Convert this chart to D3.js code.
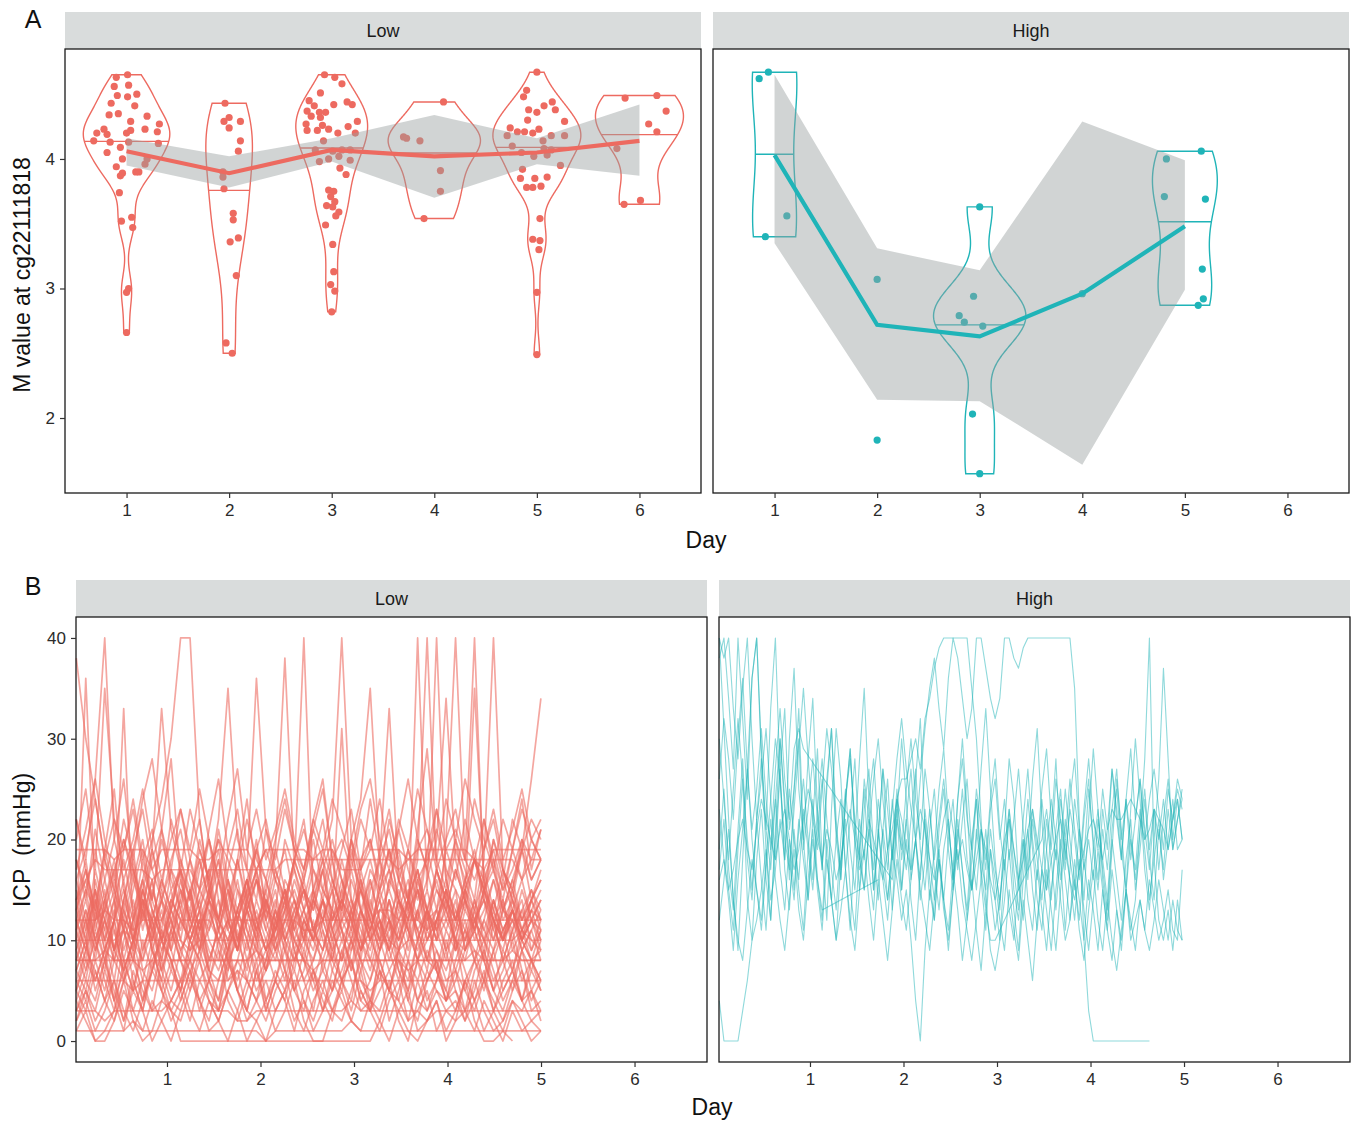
<!DOCTYPE html>
<html>
<head>
<meta charset="utf-8">
<script src="https://cdn.jsdelivr.net/npm/d3@7"></script>
<style>
  body { margin: 0; background: #fff; }
  text { font-family: "Liberation Sans", Arial, sans-serif; }
</style>
</head>
<body>
<svg id="fig" width="1358" height="1123"></svg>
<script>
const days = [1, 2, 3, 4, 5, 6]
const groups = ["Low", "High"]

// panel A points, per day: [jitter in days, M value]
const mLow = [
  [[-0.10,4.63],[0.01,4.65],[-0.12,4.56],[0.02,4.57],[-0.09,4.49],[0.01,4.48],[0.10,4.50],[-0.15,4.43],[0.08,4.41],
   [-0.17,4.34],[-0.08,4.35],[0.04,4.29],[0.20,4.33],[0.32,4.27],[-0.22,4.23],[-0.29,4.20],[-0.19,4.19],[0.00,4.20],
   [0.04,4.22],[0.18,4.23],[0.30,4.21],[-0.32,4.14],[-0.16,4.13],[-0.06,4.09],[0.02,4.13],[0.31,4.12],[-0.19,4.05],
   [-0.04,4.00],[-0.10,3.94],[0.18,3.96],[0.20,4.00],[0.09,3.90],[0.12,3.90],[-0.06,3.87],[-0.04,3.89],[-0.07,3.74],
   [-0.05,3.52],[0.05,3.55],[0.06,3.47],[0.02,3.00],[0.00,2.97],[0.00,2.66]],
  [[-0.04,4.43],[0.00,4.32],[-0.05,4.29],[0.00,4.24],[0.11,4.29],[0.11,4.14],[0.09,4.06],[-0.06,3.90],[-0.06,3.86],
   [-0.05,3.77],[0.04,3.58],[0.04,3.53],[0.01,3.36],[0.09,3.39],[0.07,3.10],[-0.03,2.58],[0.03,2.50]],
  [[-0.07,4.65],[0.03,4.63],[0.10,4.58],[-0.11,4.51],[-0.22,4.45],[-0.17,4.41],[0.02,4.42],[0.15,4.44],[0.20,4.42],
   [-0.24,4.37],[-0.12,4.36],[-0.06,4.36],[-0.20,4.33],[-0.11,4.32],[0.25,4.29],[-0.25,4.27],[-0.09,4.26],[0.16,4.25],
   [-0.24,4.22],[-0.14,4.22],[-0.03,4.23],[0.06,4.20],[0.23,4.20],[-0.08,4.14],[-0.16,4.07],[0.01,4.06],[0.10,4.07],
   [0.18,4.07],[-0.12,3.98],[-0.03,4.00],[0.07,4.02],[0.18,3.99],[0.08,3.93],[0.14,3.88],[-0.03,3.76],[0.02,3.75],
   [-0.01,3.71],[0.03,3.67],[-0.05,3.64],[0.01,3.63],[0.07,3.59],[0.04,3.56],[-0.06,3.49],[0.01,3.34],[0.02,3.13],
   [-0.01,3.03],[0.03,2.98],[0.00,2.82]],
  [[0.09,4.44],[-0.30,4.17],[-0.27,4.16],[-0.14,4.14],[0.06,3.91],[0.06,3.75],[-0.10,3.54]],
  [[0.00,4.67],[-0.10,4.53],[-0.13,4.48],[0.07,4.41],[0.15,4.44],[0.18,4.38],[-0.08,4.38],[0.00,4.36],[-0.09,4.30],
   [0.27,4.29],[-0.26,4.24],[-0.19,4.21],[-0.12,4.21],[-0.04,4.20],[0.02,4.23],[0.27,4.18],[-0.29,4.18],[0.14,4.18],
   [0.06,4.14],[-0.24,4.10],[0.07,4.08],[-0.15,4.05],[-0.03,4.02],[0.10,4.03],[0.14,4.07],[0.23,3.95],[-0.14,3.92],
   [-0.16,3.85],[-0.02,3.85],[0.10,3.86],[-0.10,3.78],[-0.04,3.78],[0.04,3.79],[0.03,3.54],[-0.04,3.38],[0.03,3.37],
   [0.02,3.30],[0.00,2.97],[0.00,2.49]],
  [[-0.14,4.47],[0.17,4.49],[0.26,4.37],[0.09,4.27],[0.17,4.21],[-0.22,4.08],[-0.15,3.65],[0.01,3.68]]
]
const mHigh = [
  [[-0.15,4.62],[-0.06,4.67],[0.12,3.56],[-0.09,3.40]],
  [[0.00,3.07],[0.00,1.83]],
  [[0.00,3.63],[-0.06,2.94],[-0.20,2.79],[-0.15,2.74],[0.03,2.71],[-0.07,2.03],[0.00,1.57]],
  [[0.00,2.96]],
  [[-0.18,4.00],[0.16,4.06],[-0.20,3.71],[0.20,3.69],[0.17,3.15],[0.18,2.92],[0.13,2.87]],
  []
]

// panel A summary line and ribbon
const meanLow = [4.06, 3.89, 4.07, 4.02, 4.05, 4.14]
const ribbonLoLow = [3.95, 3.78, 3.98, 3.70, 3.96, 3.87]
const ribbonHiLow = [4.16, 4.02, 4.16, 4.34, 4.16, 4.42]
const summaryDaysHigh = [1, 2, 3, 4, 5]
const meanHigh = [4.03, 2.72, 2.63, 2.96, 3.48]
const ribbonLoHigh = [3.35, 2.14, 2.13, 1.64, 2.99]
const ribbonHiHigh = [4.65, 3.31, 3.14, 4.29, 3.99]

// panel B: ICP traces, one string per patient, "_" = missing reading
const icpStart = 0.03
const icpLowStep = 0.1014
const icpHighStep = 0.05
const icpLow = [
  "38 30 24 18 15 20 17 14 12 16 13 11 15 18 14 12 10 13 16 12 9 11 14 17 13 10 12 15 11 9 13 16 12 10 14 11 9 12 15 13 10 8 12 14 11 9 13 10 12 11",
  "22 18 26 40 20 16 19 23 17 14 18 21 16 13 17 20 15 12 16 19 22 17 14 18 15 13 17 20 16 12 15 18 14 11 16 19 15 13 17 14 12 16 18 15 13 17 14 12 15 13",
  "3 5 2 4 6 3 1 4 7 5 3 2 5 8 4 2 0 3 6 4 2 5 7 3 1 4 6 3 2 5 8 4 3 6 2 0 4 7 5 3 2 6 4 1 3 5 7 4 2 3",
  "19 19 19 19 18 19 19 19 17 19 19 19 19 18 18 19 19 19 19 17 19 19 19 19 19 18 19 19 17 17 17 19 19 19 19 18 19 19 19 19 19 19 18 17 19 19 19 19 19 19",
  "12 9 14 11 8 13 10 15 12 9 11 14 10 8 12 16 11 9 13 10 7 12 15 11 9 14 10 8 13 11 16 12 9 14 10 13 11 8 12 15 10 9 13 11 14 10 12 9 11 13",
  "8 12 15 10 14 18 13 16 20 24 30 40 40 22 15 12 16 13 10 14 11 9 13 15 12 10 8 11 14 12 9 13 10 12 15 11 8 10 13 11 14 9 12 10 8 11 13 10 12 9",
  "5 8 6 9 4 7 10 6 3 8 5 9 7 4 6 10 8 5 3 7 9 6 4 8 11 7 5 9 6 3 7 10 8 5 4 8 6 9 7 5 3 6 8 10 7 4 6 9 5 7",
  "20 25 17 35 22 19 24 18 21 16 20 23 18 15 21 26 19 17 22 18 16 20 24 19 17 21 18 15 19 23 17 20 16 22 18 14 19 21 17 20 23 18 16 19 22 17 15 20 18 21",
  "4 2 0 1 3 6 2 0 1 4 3 0 0 0 0 0 0 0 0 0 0 0 0 0 0 0 0 0 0 0 0 0 2 5 3 1 0 2 4 1 3 6 2 0 0 1 4 2 0 1",
  "15 11 17 13 9 14 19 12 16 10 13 18 15 11 14 17 12 9 15 20 13 11 16 14 10 15 18 12 14 11 17 13 10 16 19 14 12 15 11 13 17 14 10 12 16 13 11 15 12 14",
  "10 36 14 9 12 33 11 8 13 10 7 12 15 9 11 14 8 10 13 16 12 9 11 14 10 8 12 15 11 13 9 12 10 14 11 8 13 10 12 15 9 11 14 10 12 8 11 13 10 9",
  "7 10 5 8 12 6 9 4 7 11 8 5 10 13 7 6 9 12 8 5 7 10 14 9 6 8 11 7 5 9 12 8 6 10 7 4 8 11 9 6 7 10 13 8 5 9 7 11 8 6",
  "13 16 12 18 14 11 15 19 13 10 14 17 12 15 20 16 13 18 14 11 15 19 38 17 40 14 12 16 13 18 15 11 14 17 13 16 12 19 15 13 17 14 11 15 18 13 16 12 14 17",
  "9 12 8 14 11 7 10 13 9 12 15 10 8 11 14 9 7 12 16 11 9 13 10 8 12 14 18 22 40 20 13 10 12 9 14 11 8 13 10 12 15 9 11 8 13 10 12 14 9 11",
  "18 14 21 16 12 19 23 17 14 20 16 13 18 22 15 12 17 21 14 19 16 13 20 17 14 18 22 16 13 19 15 12 18 21 16 14 20 17 13 19 16 22 18 15 20 17 14 19 16 18",
  "11 14 10 13 16 12 9 15 11 14 17 13 10 12 15 11 14 18 13 10 16 12 15 11 13 17 14 10 12 16 13 11 15 19 14 12 40 15 40 16 12 14 11 17 13 10 15 12 14 11",
  "6 9 12 8 11 7 10 14 9 6 11 8 13 10 7 12 9 15 11 8 10 13 9 7 12 10 14 11 8 13 10 7 11 14 9 12 16 13 10 20 40 18 40 15 12 10 13 9 11 8",
  "14 17 13 19 15 12 16 20 14 11 17 15 13 18 14 21 16 12 15 19 13 17 14 11 16 20 15 13 18 14 12 17 15 19 16 13 18 40 17 14 19 16 13 18 40 17 15 19 14 16",
  "12 15 10 13 17 11 14 9 12 16 13 10 15 11 14 18 12 9 13 16 11 14 10 12 15 13 17 11 14 12 16 10 13 15 12 14 17 11 13 16 12 15 18 14 20 16 22 19 26 34",
  "10 13 9 12 15 11 8 13 10 14 12 9 11 15 13 10 12 16 11 9 14 12 10 13 15 11 9 12 14 10 13 11 15 12 9 14 11 13 16 12 10 14 12 15 17 13 16 19 22 20",
  "12 12 12 13 12 12 11 12 12 12 14 12 12 12 12 10 12 12 12 12 13 12 12 12 11 11 12 12 12 12 12 12 13 13 12 12 12 11 12 12 12 12 12 14 12 12 12 12 12 12",
  "2 5 3 7 4 1 6 3 8 5 2 4 7 3 6 9 4 2 5 8 3 6 4 1 5 7 3 5 9 6 3 4 7 2 5 8 4 3 6 9 5 2 4 7 3 6 8 4 5 3",
  "16 19 24 18 22 17 20 25 19 33 21 17 23 19 16 22 35 20 17 36 21 18 23 19 16 21 25 18 20 17 22 19 24 18 21 26 20 17 23 19 21 18 24 20 17 22 19 23 20 18",
  "8 11 14 10 13 9 12 15 11 8 14 12 10 13 16 11 9 12 15 10 14 11 13 9 12 10 15 13 31 14 11 9 13 12 10 14 11 8 12 15 13 10 12 9 14 11 13 10 12 14",
  "13 10 15 12 9 14 11 16 13 10 12 15 11 14 17 12 10 13 16 12 14 11 15 13 10 14 17 12 15 20 24 35 18 33 16 13 15 12 17 14 11 15 13 16 12 14 10 13 15 12",
  "9 13 10 7 12 15 10 8 11 14 9 12 10 13 8 11 15 12 9 13 10 8 12 14 11 9 13 10 15 12 9 11 14 10 12 9 13 16 20 34 18 14 35 16 12 10 13 11 9 12",
  "8 8 8 9 8 8 8 7 8 8 8 8 8 6 8 8 8 8 8 9 8 8 8 8 8 8 8 8 8 10 8 8 8 8 8 7 8 8 8 8 8 8 8 8 8 8 9 8 8 8",
  "5 3 7 4 2 6 8 5 3 4 7 5 2 6 4 3 8 5 2 4 6 3 5 7 4 2 5 3 6 8 4 3 5 7 4 2 6 3 5 4 7 5 3 6 4 2 5 7 3 4",
  "3 3 3 2 3 3 3 3 3 3 4 3 3 3 3 3 3 2 2 3 3 3 3 3 3 3 3 3 3 4 3 3 3 3 3 3 3 2 3 3 3 3 3 3 3 3 3 3 3 3",
  "17 21 26 20 16 22 18 24 28 21 17 23 19 25 20 16 22 27 19 23 18 21 25 20 17 22 19 24 21 18 23 26 20 17 22 19 25 21 18 24 20 26 22 19 23 18 21 25 20 22",
  "11 8 13 10 6 12 9 14 11 7 10 13 9 12 8 11 15 10 7 12 9 13 11 8 10 14 12 9 11 7 13 10 12 8 11 14 10 7 12 9 13 11 8 12 10 14 9 11 13 10",
  "1 3 0 0 2 5 3 1 4 2 0 3 6 4 1 2 5 3 0 2 4 1 3 6 2 0 0 3 5 2 1 4 2 0 3 5 1 2 4 0 2 3 1 4 2 0 3 1 2 1",
  "14 16 18 17 17 17 17 17 16 17 17 17 17 15 17 17 17 17 17 17 17 17 18 18 18 18 18 18 18 18 18 18 18 18 17 18 18 18 18 18 18 18 18 18 18 18 18 16 18 18",
  "10 7 12 14 9 11 8 13 10 15 12 9 11 14 10 8 12 9 14 11 13 10 7 12 15 11 9 13 10 12 8 14 11 9 12 15 10 13 11 8 12 10 14 11 9 13 12 10 8 11",
  "22 17 13 19 25 15 12 18 14 21 28 16 12 17 20 14 11 18 24 16 13 19 15 12 17 22 26 18 14 20 16 13 19 23 17 14 21 29 18 15 20 17 14 22 18 15 19 24 17 21",
  "6 4 8 5 9 7 3 6 10 5 8 4 7 9 6 3 5 8 6 10 4 7 5 9 6 3 8 5 7 10 6 4 8 5 9 7 4 6 8 5 10 7 4 6 9 5 7 4 8 6",
  "7 10 6 9 12 8 5 10 7 11 9 6 8 12 9 7 10 5 8 11 7 9 6 10 8 12 7 5 9 11 8 6 10 7 9 12 8 6 9 7 10 5 8 6 3 1 0",
  "10 10 10 10 10 11 10 10 10 10 10 10 9 10 10 10 10 10 10 10 10 10 12 10 10 10 10 10 10 10 10 10 10 10 9 10 10 10 10 10 10 10 10 10 10 10 10 11 10 10",
  "6 6 6 6 6 6 5 6 6 6 6 6 6 6 6 6 6 7 6 6 6 6 6 6 6 6 6 6 6 6 6 5 6 6 6 6 6 6 6 6 6 6 6 6 6 6 6 6 6 6",
  "14 18 12 16 20 26 17 13 19 15 22 18 14 20 16 12 19 23 17 14 21 16 13 18 22 15 19 16 13 20 17 24 18 15 21 17 14 19 23 16 20 15 18 22 17 14 19 16 20 18",
  "9 6 11 8 4 10 13 7 5 9 12 8 6 11 7 4 9 13 10 6 8 12 9 5 7 11 14 8 6 10 7 3 9 12 8 5 10 13 7 4 8 11 9 6 12 8 5 9 7 10",
  "16 12 9 14 18 13 10 15 19 14 11 16 12 9 15 18 13 10 14 17 12 16 19 14 11 15 12 9 14 17 13 10 16 19 14 12 15 11 17 13 10 14 18 15 11 16 13 10 14 12",
  "4 7 10 6 3 8 5 9 12 7 4 6 10 8 5 3 7 11 6 4 8 12 7 5 9 6 3 7 10 8 4 6 9 12 7 5 8 4 6 10 7 3 5 9 6 8 11 7 4 6",
  "13 17 11 15 9 14 18 12 16 10 13 17 14 11 15 19 13 9 12 16 14 10 13 18 15 11 14 12 16 13 9 15 18 12 10 14 17 13 11 15 12 16 19 14 10 13 15 11 14 16",
  "2 4 1 3 6 2 5 3 0 2 4 6 3 1 4 2 5 7 3 2 0 3 5 2 4 1 3 6 4 2 5 3 1 4 6 2 3 5 1 3 4 2 6 3 1 2 4 3 5 2",
  "11 15 13 9 12 16 10 14 12 8 13 17 11 9 14 12 16 10 13 11 15 9 12 16 13 10 14 11 8 13 15 12 9 11 14 10 16 12 13 9 11 15 12 10 14 11 13 16 12 10",
  "7 5 9 12 8 6 10 14 9 7 11 8 5 9 13 10 6 8 12 9 7 11 15 10 8 6 9 13 11 7 10 8 12 9 6 10 13 8 7 11 9 12 8 5 9 11 7 10 8 9",
  "18 15 19 14 17 20 16 13 18 21 15 17 14 19 16 20 18 15 13 17 19 16 14 18 21 17 15 19 16 13 18 20 15 17 14 19 16 18 21 17 15 13 18 16 19 15 17 20 16 18",
  "5 9 7 4 8 11 6 3 7 10 8 5 9 12 6 4 8 6 10 7 3 6 9 12 8 5 7 10 6 4 9 11 7 5 8 6 10 13 7 4 6 9 11 8 5 7 10 6 8 5",
  "14 10 16 12 9 13 17 11 15 12 10 14 18 13 11 16 12 9 14 17 12 15 10 13 16 11 14 18 12 10 15 13 11 16 14 12 17 13 10 14 12 15 11 13 16 12 14 10 13 15",
  "8 8 8 8 8 8 8 8 8 10 8 8 8 8 8 8 8 8 8 8 8 8 8 8 8 7 8 8 8 8 8 8 8 8 8 8 8 8 8 8 8 8 9 8 8 8 8 8 8 8",
  "3 6 4 8 5 2 7 4 9 6 3 5 8 4 2 6 9 5 3 7 4 6 10 5 3 7 4 2 6 8 5 3 7 5 9 4 2 6 8 4 5 3 7 9 5 3 6 4 7 5",
  "12 9 15 11 14 8 12 16 10 13 9 15 12 10 14 11 8 13 16 12 9 11 14 10 13 15 11 8 12 14 10 16 12 9 13 11 15 10 12 14 9 13 11 15 12 10 14 11 13 12",
  "1 1 1 1 1 1 2 1 1 1 1 1 1 1 1 1 1 1 1 1 0 1 1 1 1 1 1 1 1 2 1 1 1 1 1 1 1 1 1 1 1 1 1 1 1 1 1 1 1 1"
]
const icpHigh = [
  "40 38 40 33 28 35 40 30 22 26 31 24 18 27 33 21 25 30 19 23 28 22 17 25 31 20 16 24 29 21 18 26 22 15 20 27 23 18 24 26 26 28 30 27 32 34 37 39 40 40 40 40 40 40 35 30 22 14 9 7 10 14 19 13 9 16 21 15 11 17 22 18 13 19 25 20 16 12 18 14 19 23 17 13 20 16 12 18 22 15 19 24 18 14 21 17 23 19 22 25",
  "23 18 14 9 16 21 27 20 15 12 18 24 30 26 20 17 23 29 35 28 22 19 25 31 27 21 17 24 28 22 18 15 21 26 30 24 19 23 28 32 27 23 20 26 31 35 38 33 29 36 40 38 34 30 33 40 40 37 34 32 34 40 40 38 37 39 40 40 40 40 40 40 40 40 40 40 35 22 10 3 0 0 0 0 0 0 0 0 0 0 0 0 0",
  "4 0 0 0 0 3 6 10 12 15 19 14 17 22 18 25 20 16 23 19 15 21 26 18 14 20 24 17 22 28 19 15 21 17 24 20 14 19 25 18 22 16 20 14 18 23 17 13 19 22 16 20 25 18 15 21 17 13 19 16 12 9 15 11 8 14 10 6 12 17 13 9 15 20 16 12 18 14 10 16 13 9 15 11 8 13 10 15 12 9 14 11 16 13 10 12 15 11 10 17",
  "26 32 28 22 30 36 27 21 25 31 24 19 27 33 26 22 29 31 29 _ _ _ _ _ _ _ _ _ _ _ _ _ _ _ _ _ _ 16 22 19 25 30 24 20 27 23 18 22 26 21 17 24 28 22 19 25 21 17 23 26 20 24 18 22 27 21 17 23 19 25 29 22 18 24 20 26 21 17 23 28 22 19 25 21 27 23 18 24 29 22 26 20 24 27 23 19 25 22 26 24",
  "19 25 17 13 21 28 18 14 22 16 11 19 24 17 13 20 15 22 18 14 20 16 13 _ _ _ _ _ _ _ _ _ _ _ 16 21 17 24 19 15 22 27 20 16 23 18 14 21 25 19 15 22 17 13 20 24 18 15 21 17 14 19 23 17 13 20 16 22 18 14 19 24 20 16 22 18 15 21 17 20 16 22 18 14 21 25 19 15 20 17 23 19 14 18 22 16 20 24 19 20",
  "30 24 18 25 32 26 20 15 22 28 21 17 24 30 23 18 14 21 26 20 16 23 28 22 17 13 20 25 19 15 22 18 24 28 21 17 14 19 16 12 15 10 4 0 9 15 12 18 14 11 17 13 8 12 16 11 7 13 10 10 _ _ _ _ _ _ _ _ _ 20 23 19 26 22 17 24 28 21 18 25 20 16 23 19 27 22 18 24 20 16 21 25 19 23 17 22 26 20 24 20",
  "17 22 15 11 19 26 14 10 18 23 16 12 20 27 17 13 21 15 11 19 24 16 12 20 14 10 18 22 15 11 19 25 17 13 21 16 12 18 23 15 20 14 10 17 22 16 12 19 14 9 15 21 17 12 18 24 16 11 19 14 10 17 22 15 12 18 24 19 14 11 17 13 9 15 20 16 12 18 13 9 14 19 15 11 17 13 9 15 11 14 21 28 40 18 12 10 13 9 14 10",
  "40 31 22 14 9 18 27 36 40 28 19 12 21 30 24 16 25 33 20 14 22 29 18 12 23 31 26 17 11 20 28 35 24 15 21 27 19 13 22 30 24 17 26 32 21 14 19 25 29 22 16 24 30 23 15 20 27 33 25 18 13 21 28 24 16 12 19 26 31 22 15 21 28 18 11 17 24 20 14 22 29 23 16 12 19 26 21 15 23 30 24 17 13 20 26 37 28 19 22 24",
  "16 18 15 17 20 22 19 17 21 24 22 20 18 21 23 20 17 19 22 25 23 20 18 21 19 16 18 21 23 20 17 19 22 20 18 16 19 21 24 22 19 17 20 23 21 18 16 19 22 24 21 18 20 17 15 18 21 19 16 14 17 20 22 19 16 18 21 23 20 17 15 18 20 22 19 16 14 17 19 21 22 20 18 21 23 22 22 23 24 23 22 20 21 23 22 21 19 22 24 20",
  "12 16 21 14 10 8 13 18 15 11 17 22 16 12 9 14 19 13 10 16 21 15 11 18 14 10 13 17 12 9 15 19 14 10 16 12 8 13 18 14 11 16 20 15 12 9 14 18 13 10 15 19 14 11 8 12 16 21 15 11 14 18 13 10 16 20 14 11 17 13 9 15 19 14 10 12 16 11 8 13 17 12 9 14 10 7 11 15 10 12 14 11 9 12 16 13 10 14 11 10",
  "38 40 34 27 40 32 24 36 40 29 21 33 40 26 18 30 37 25 20 28 34 23 17 26 31 22 16 24 29 20 15 23 27 19 14 21 26 18 24 20 17 22 27 19 15 21 25 18 14 20 24 17 22 26 19 15 21 18 24 28 21 17 23 19 15 22 27 20 16 24 19 14 21 25 18 23 20 16 22 26 19 15 21 17 23 27 20 24 18 22 26 21 17 23 20 24 19 22 25 23"
]

const colors = { Low: "#ED6A60", High: "#1FB4B8" }
const stripFill = "#d9dcdc"
const tickColor = "#333"

const svg = d3.select("#fig")

const layoutA = { top: 49, bottom: 493, stripTop: 12, cols: [[65, 701], [713, 1349]] }
const layoutB = { top: 617, bottom: 1062, stripTop: 580, cols: [[76, 707], [719, 1350]] }

const drawStrip = (x0, x1, y0, y1, label) => {
    svg.append("rect")
        .attr("x", x0).attr("y", y0)
        .attr("width", x1 - x0).attr("height", y1 - y0)
        .attr("fill", stripFill)
    svg.append("text")
        .attr("x", (x0 + x1) / 2).attr("y", (y0 + y1) / 2 + 6)
        .attr("text-anchor", "middle")
        .attr("font-size", 18)
        .attr("fill", "#1a1a1a")
        .text(label)
}

const drawFrame = (x0, x1, y0, y1) => {
    svg.append("rect")
        .attr("x", x0).attr("y", y0)
        .attr("width", x1 - x0).attr("height", y1 - y0)
        .attr("fill", "none")
        .attr("stroke", "#1a1a1a")
        .attr("stroke-width", 1.3)
}

const styleAxis = g => {
    g.select(".domain").remove()
    g.selectAll(".tick line").attr("stroke", tickColor).attr("stroke-width", 1.2)
    g.selectAll(".tick text")
        .attr("fill", "#2b2b2b")
        .attr("font-size", 17)
        .style("font-family", "'Liberation Sans', Arial, sans-serif")
}

// kernel density like ggplot's stat_ydensity (gaussian, bw.nrd0, trimmed)
const ydensity = vals => {
    const s = vals.slice().sort(d3.ascending)
    const n = s.length
    const sd = d3.deviation(s)
    const iqr = d3.quantile(s, 0.75) - d3.quantile(s, 0.25)
    let lo = Math.min(sd, iqr / 1.34)
    if (!(lo > 0)) lo = sd
    const bw = 0.9 * lo * Math.pow(n, -0.2)
    const y0 = s[0], y1 = s[n - 1]
    return d3.range(512).map(i => {
        const y = y0 + (y1 - y0) * i / 511
        const d = d3.sum(s, v => Math.exp(-0.5 * ((y - v) / bw) ** 2)) / (n * bw * Math.sqrt(2 * Math.PI))
        return { y, d }
    })
}

const drawViolinFacet = (col, group, pts, mean, lo, hi, summaryDays, showY) => {
    const [x0, x1] = col
    const x = d3.scaleLinear().domain([0.4, 6.6]).range([x0, x1])
    const y = d3.scaleLinear().domain([1.421, 4.849]).range([layoutA.bottom, layoutA.top])
    const color = colors[group]

    drawStrip(x0, x1, layoutA.stripTop, layoutA.top, group)

    const g = svg.append("g")

    const dens = pts.map(p => p.length >= 3 ? ydensity(p.map(d => d[1])) : null)
    const maxD = d3.max(dens.filter(d => d).map(ds => d3.max(ds, d => d.d)))

    dens.forEach((ds, i) => {
        if (!ds) return
        const day = days[i]
        const half = d => 0.45 * d.d / maxD
        const outline = ds.map(d => [x(day + half(d)), y(d.y)])
            .concat(ds.slice().reverse().map(d => [x(day - half(d)), y(d.y)]))
        g.append("path")
            .attr("d", d3.line()(outline) + "Z")
            .attr("fill", "none")
            .attr("stroke", color)
            .attr("stroke-width", 1.4)

        // median from the density
        const total = d3.sum(ds, d => d.d)
        let acc = 0, k = 0
        while (k < ds.length - 1 && (acc + ds[k].d) / total < 0.5) { acc += ds[k].d; k++ }
        g.append("line")
            .attr("x1", x(day - half(ds[k]))).attr("x2", x(day + half(ds[k])))
            .attr("y1", y(ds[k].y)).attr("y2", y(ds[k].y))
            .attr("stroke", color)
            .attr("stroke-width", 1.4)
    })

    pts.forEach((p, i) => {
        g.selectAll(null)
            .data(p).enter()
            .append("circle")
            .attr("cx", d => x(days[i] + d[0]))
            .attr("cy", d => y(d[1]))
            .attr("r", 3.6)
            .attr("fill", color)
    })

    const band = summaryDays.map((d, i) => ({ day: d, lo: lo[i], hi: hi[i], m: mean[i] }))
    g.append("path")
        .attr("d", d3.area().x(d => x(d.day)).y0(d => y(d.lo)).y1(d => y(d.hi))(band))
        .attr("fill", "#9a9f9f")
        .attr("fill-opacity", 0.45)
    g.append("path")
        .attr("d", d3.line().x(d => x(d.day)).y(d => y(d.m))(band))
        .attr("fill", "none")
        .attr("stroke", color)
        .attr("stroke-width", 4.2)

    drawFrame(x0, x1, layoutA.top, layoutA.bottom)

    svg.append("g")
        .attr("transform", `translate(0,${layoutA.bottom})`)
        .call(d3.axisBottom(x).tickValues(days).tickFormat(d3.format("d")).tickSize(5).tickPadding(6))
        .call(styleAxis)
    if (showY) {
        svg.append("g")
            .attr("transform", `translate(${x0},0)`)
            .call(d3.axisLeft(y).tickValues([2, 3, 4]).tickFormat(d3.format("d")).tickSize(5).tickPadding(5))
            .call(styleAxis)
    }
}

const parseTrace = (str, step) =>
    str.trim().split(/\s+/)
        .map((v, i) => v === "_" ? null : { t: icpStart + i * step, v: +v })
        .filter(d => d)

const drawTraceFacet = (col, group, traces, step, opacity, width, showY) => {
    const [x0, x1] = col
    const x = d3.scaleLinear().domain([0.027, 6.775]).range([x0, x1])
    const y = d3.scaleLinear().domain([-2.08, 42.08]).range([layoutB.bottom, layoutB.top])

    drawStrip(x0, x1, layoutB.stripTop, layoutB.top, group)

    const line = d3.line().x(d => x(d.t)).y(d => y(d.v))
    svg.append("g")
        .selectAll("path")
        .data(traces.map(s => parseTrace(s, step)))
        .enter()
        .append("path")
        .attr("d", line)
        .attr("fill", "none")
        .attr("stroke", colors[group])
        .attr("stroke-opacity", opacity)
        .attr("stroke-width", width)
        .attr("stroke-linejoin", "round")

    drawFrame(x0, x1, layoutB.top, layoutB.bottom)

    svg.append("g")
        .attr("transform", `translate(0,${layoutB.bottom})`)
        .call(d3.axisBottom(x).tickValues(days).tickFormat(d3.format("d")).tickSize(5).tickPadding(6))
        .call(styleAxis)
    if (showY) {
        svg.append("g")
            .attr("transform", `translate(${x0},0)`)
            .call(d3.axisLeft(y).tickValues([0, 10, 20, 30, 40]).tickSize(5).tickPadding(5))
            .call(styleAxis)
    }
}

drawViolinFacet(layoutA.cols[0], "Low", mLow, meanLow, ribbonLoLow, ribbonHiLow, days, true)
drawViolinFacet(layoutA.cols[1], "High", mHigh, meanHigh, ribbonLoHigh, ribbonHiHigh, summaryDaysHigh, false)
drawTraceFacet(layoutB.cols[0], "Low", icpLow, icpLowStep, 0.6, 1.7, true)
drawTraceFacet(layoutB.cols[1], "High", icpHigh, icpHighStep, 0.5, 1.1, false)

// titles and panel tags
const addText = (x, y, txt, size, rotate) => {
    const t = svg.append("text")
        .attr("x", x).attr("y", y)
        .attr("text-anchor", "middle")
        .attr("font-size", size)
        .attr("fill", "#111")
        .text(txt)
    if (rotate) t.attr("transform", `rotate(-90,${x},${y})`)
    return t
}
addText(706, 548, "Day", 23)
addText(712, 1115, "Day", 23)
addText(30, 275, "M value at cg22111818", 23, true)
addText(30, 840, "ICP\u00a0\u00a0(mmHg)", 23, true)
addText(33, 28, "A", 25)
addText(33, 595, "B", 25)
</script>
</body>
</html>
